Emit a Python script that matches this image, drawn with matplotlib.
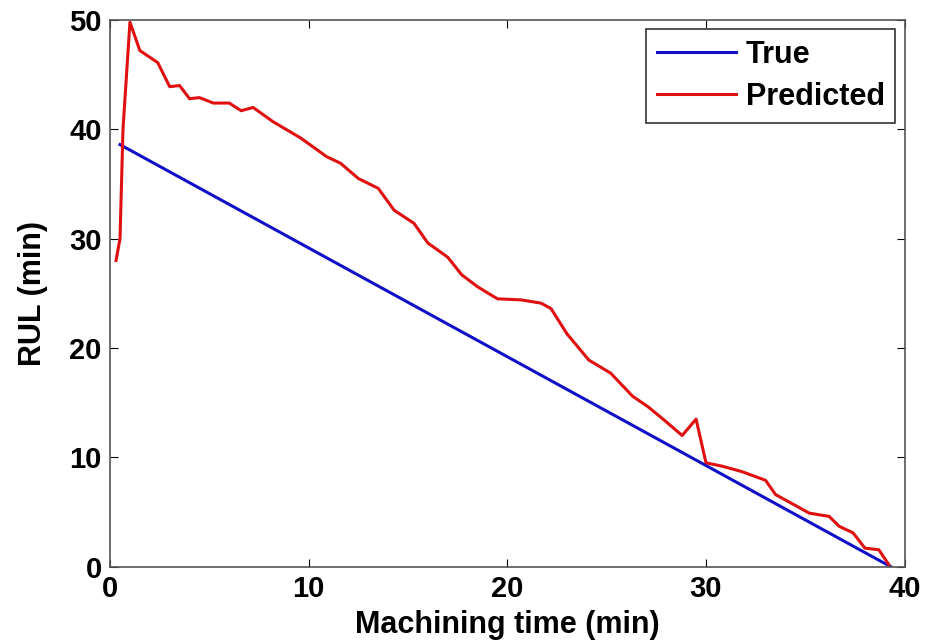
import matplotlib
matplotlib.use('Agg')
import matplotlib.pyplot as plt

# True RUL (straight line) and predicted RUL
true_time = [0.5, 39.3]
true_rul = [38.6, 0.0]

pred_time = [0.3, 0.5, 0.65, 1.0, 1.5, 2.4, 3.0, 3.5, 4.0, 4.5, 5.2, 6.0, 6.6, 7.2,
             8.2, 9.6, 10.9, 11.6, 12.5, 13.5, 14.3, 15.3, 16.0, 17.0, 17.7, 18.5,
             19.5, 20.7, 21.7, 22.2, 23.0, 24.1, 25.2, 26.3, 27.1, 27.9, 28.8, 29.5,
             30.0, 30.8, 31.8, 33.0, 33.5, 34.3, 35.2, 36.2, 36.7, 37.4, 38.0, 38.7,
             39.2]
pred_rul = [28.0, 30.0, 40.0, 49.8, 47.2, 46.1, 43.9, 44.0, 42.8, 42.9, 42.4, 42.4,
            41.7, 42.0, 40.7, 39.2, 37.5, 36.9, 35.5, 34.6, 32.6, 31.4, 29.6, 28.3,
            26.7, 25.6, 24.5, 24.4, 24.1, 23.6, 21.3, 18.9, 17.7, 15.6, 14.6, 13.4,
            12.0, 13.5, 9.5, 9.2, 8.7, 7.9, 6.6, 5.8, 4.9, 4.6, 3.7, 3.1, 1.7, 1.55,
            0.2]

plt.rcParams['font.family'] = ['Liberation Sans', 'DejaVu Sans']
plt.rcParams['font.weight'] = 'bold'
fs = 21

fig = plt.figure(figsize=(9.25, 6.44), dpi=100)
ax = fig.add_axes([0.119, 0.12, 0.859, 0.849])

ax.plot(true_time, true_rul, color='#1010c8', linewidth=2.2, label='True')
ax.plot(pred_time, pred_rul, color='#e01010', linewidth=2.2, label='Predicted')

ax.set_xlim(0, 40)
ax.set_ylim(0, 50)
ax.set_xticks([0, 10, 20, 30, 40])
ax.set_yticks([0, 10, 20, 30, 40, 50])
ax.tick_params(direction='in', top=True, right=True, labelsize=fs, length=6, pad=6)
ax.set_xlabel('Machining time (min)', fontsize=22, fontweight='bold', labelpad=5)
ax.set_ylabel('RUL (min)', fontsize=22, fontweight='bold', labelpad=15)
for s in ax.spines.values():
    s.set_color('#555555')
    s.set_linewidth(1.2)

leg = ax.legend(loc='upper right', fontsize=22, fancybox=False, framealpha=1,
                edgecolor='#333333', handlelength=2.6, borderaxespad=0.3,
                handletextpad=0.3, labelspacing=0.4, borderpad=0.35)
leg.get_frame().set_linewidth(1.2)

fig.savefig('out.png', dpi=100)
